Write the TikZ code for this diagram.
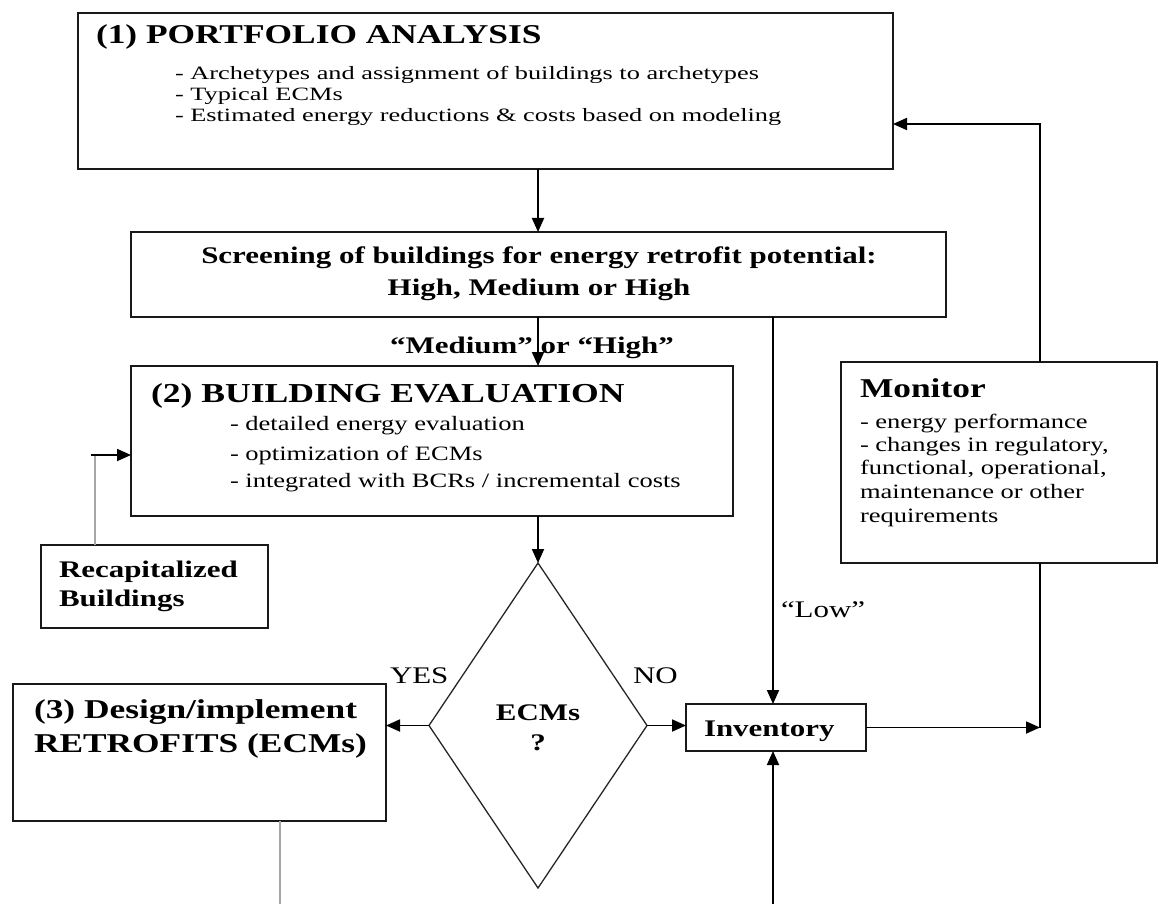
\documentclass[tikz,border=0pt]{standalone}
\usepackage{fontspec}
\setmainfont[FakeStretch=1.3]{Liberation Serif}
\newfontfamily\widefam[FakeStretch=1.4]{Liberation Serif}
\usetikzlibrary{arrows.meta,shapes.geometric}
\newcommand\fsA{\fontsize{20.4}{23.6}\selectfont}
\newcommand\fsW{\widefam\fontsize{18.8}{21}\selectfont}
\newcommand\fsB{\fontsize{23.8}{27}\selectfont}
\newcommand\fsC{\fontsize{27.2}{31}\selectfont}
\newcommand\fsT{\fontsize{27.4}{31}\selectfont}
\begin{document}
\begin{tikzpicture}[x=1pt,y=-1pt,
  box/.style={draw=black!90,line width=2pt,inner sep=0pt,outer sep=0pt},
  txt/.style={inner sep=0pt,outer sep=0pt,anchor=base west},
  ctxt/.style={inner sep=0pt,outer sep=0pt,anchor=base},
  arr/.style={line width=1.8pt,-{Triangle[length=14pt,width=12pt]}},
  ln/.style={line width=1.8pt},
  gln/.style={line width=2.5pt,draw=black!35}]
\useasboundingbox (0,0) rectangle (1159,904);
% boxes
\node[box,minimum width=815pt,minimum height=156pt] (b1) at (485.5,91) {};
\node[box,minimum width=815pt,minimum height=85pt] (scr) at (538.5,274.5) {};
\node[box,minimum width=602pt,minimum height=150pt] (b2) at (432,441) {};
\node[box,minimum width=227pt,minimum height=83pt] (rec) at (154.5,586.5) {};
\node[box,minimum width=373pt,minimum height=137pt] (des) at (199.5,752.5) {};
\node[box,minimum width=180pt,minimum height=47pt] (inv) at (776,727.5) {};
\node[box,minimum width=316pt,minimum height=201pt] (mon) at (999,462.5) {};
\node[draw=black!85,line width=1.3pt,diamond,inner sep=0pt,outer sep=0pt,
  minimum width=218pt,minimum height=325pt] (dia) at (538,725.5) {};
% texts
\node[txt,font=\fsC\bfseries] (t1) at (96,44) {(1) PORTFOLIO ANALYSIS};
\node[txt,font=\fsW] (t1a) at (175,80) {- Archetypes and assignment of buildings to archetypes};
\node[txt,font=\fsW] (t1b) at (175,101) {- Typical ECMs};
\node[txt,font=\fsW] (t1c) at (175,122) {- Estimated energy reductions \& costs based on modeling};
\node[ctxt,font=\fsB\bfseries] (s1) at (539,263) {Screening of buildings for energy retrofit potential:};
\node[ctxt,font=\fsB\bfseries] (s2) at (539,295) {High, Medium or High};
\node[ctxt,font=\fsB\bfseries] (lm) at (532,353) {“Medium” or “High”};
\node[txt,font=\fsT\bfseries] (t2) at (151,402) {(2) BUILDING EVALUATION};
\node[txt,font=\fsA] (t2a) at (230,430) {- detailed energy evaluation};
\node[txt,font=\fsA] (t2b) at (230,460) {- optimization of ECMs};
\node[txt,font=\fsA] (t2c) at (230,487) {- integrated with BCRs / incremental costs};
\node[txt,font=\fsB\bfseries] (r1) at (59,577) {Recapitalized};
\node[txt,font=\fsB\bfseries] (r2) at (59,606) {Buildings};
\node[txt,font=\fsC\bfseries] (d1) at (34,718) {(3) Design/implement};
\node[txt,font=\fsC\bfseries] (d2) at (34,752) {RETROFITS (ECMs)};
\node[txt,font=\fsB] (yes) at (390,683) {YES};
\node[txt,font=\fsB] (no) at (633,683) {NO};
\node[ctxt,font=\fsB\bfseries] (e1) at (538,720) {ECMs};
\node[ctxt,font=\fsB\bfseries] (e2) at (538,750) {?};
\node[txt,font=\fsB] (low) at (781,617) {“Low”};
\node[txt,font=\fsB\bfseries] (invt) at (704,736) {Inventory};
\node[txt,font=\fsC\bfseries] (m0) at (860,397) {Monitor};
\node[txt,font=\fsA] (m1) at (860,428) {- energy performance};
\node[txt,font=\fsA] (m2) at (860,451) {- changes in regulatory,};
\node[txt,font=\fsA] (m3) at (860,474) {functional, operational,};
\node[txt,font=\fsA] (m4) at (860,498) {maintenance or other};
\node[txt,font=\fsA] (m5) at (860,522) {requirements};
% helper coordinates
\coordinate (lowx) at (773,0);
\coordinate (xr) at (1040,0);
\coordinate (yfb) at (0,124);
\coordinate (yin) at (0,455);
\coordinate (gx) at (95,0);
\coordinate (ax) at (91,0);
\coordinate (dx) at (280,0);
\coordinate (bot) at (0,904);
\coordinate (j) at (inv.east -| xr);
% connectors
\draw[arr] (b1.south -| dia.north) -- (scr.north -| dia.north);
\draw[arr] (scr.south -| dia.north) -- (b2.north -| dia.north);
\draw[arr] (b2.south -| dia.north) -- (dia.north);
\draw[arr] (scr.south -| lowx) -- (inv.north -| lowx);
\draw[arr] (bot -| lowx) -- (inv.south -| lowx);
\draw[arr] (dia.west) -- (dia.west -| des.east);
\draw[arr] (dia.east) -- (dia.east -| inv.west);
\draw[arr] (inv.east) -- (j);
\draw[ln] (j) -- (mon.south -| xr);
\draw[arr] (mon.north -| xr) |- (b1.east |- yfb);
\draw[gln] (rec.north -| gx) -- (gx |- yin);
\draw[arr] (ax |- yin) -- (b2.west |- yin);
\draw[gln] (des.south -| dx) -- (bot -| dx);
\end{tikzpicture}
\end{document}
